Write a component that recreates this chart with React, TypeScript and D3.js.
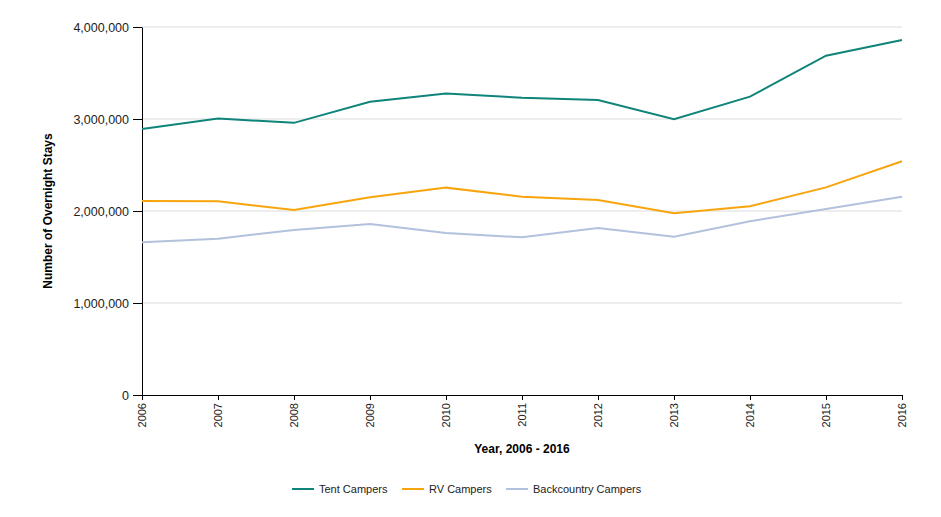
import React, { useRef, useEffect } from 'react';
import * as d3 from 'd3';

const years = [2006, 2007, 2008, 2009, 2010, 2011, 2012, 2013, 2014, 2015, 2016];
const tentCampers = [2891000, 3005000, 2958000, 3188000, 3278000, 3231000, 3206000, 2997000, 3243000, 3688000, 3859000];
const rvCampers = [2109000, 2105000, 2011000, 2149000, 2254000, 2156000, 2120000, 1975000, 2051000, 2257000, 2540000];
const backcountryCampers = [1659000, 1699000, 1793000, 1859000, 1761000, 1714000, 1815000, 1721000, 1888000, 2022000, 2156000];
const yTicks = [0, 1000000, 2000000, 3000000, 4000000];

const series = [
  { name: 'Tent Campers', values: tentCampers, color: '#0f847a' },
  { name: 'RV Campers', values: rvCampers, color: '#f8a50d' },
  { name: 'Backcountry Campers', values: backcountryCampers, color: '#b2c2dc' },
];

const App: React.FC = () => {
  const ref = useRef<SVGSVGElement | null>(null);

  useEffect(() => {
    const width = 941;
    const height = 517;
    const margin = { top: 27, right: 39, bottom: 122, left: 142 };
    const w = width - margin.left - margin.right;
    const h = height - margin.top - margin.bottom;

    const svg = d3.select(ref.current);
    svg.selectAll('*').remove();

    const x = d3.scaleLinear().domain([2006, 2016]).range([0, w]);
    const y = d3.scaleLinear().domain([0, 4000000]).range([h, 0]);

    const g = svg.append('g').attr('transform', `translate(${margin.left},${margin.top})`);

    // grid
    g.append('g')
      .selectAll('line')
      .data(yTicks.filter(t => t > 0))
      .join('line')
      .attr('x1', 0)
      .attr('x2', w)
      .attr('y1', d => y(d))
      .attr('y2', d => y(d))
      .attr('stroke', '#dcdcdc')
      .attr('stroke-width', 1);

    // x axis
    const xAxis = g.append('g')
      .attr('transform', `translate(0,${h})`)
      .call(d3.axisBottom(x).tickValues(years).tickFormat(d3.format('d')).tickSize(5).tickSizeOuter(0));
    xAxis.select('.domain').attr('stroke', '#000');
    xAxis.selectAll('line').attr('stroke', '#000');
    xAxis.selectAll('text')
      .attr('font-family', 'Liberation Sans, Arial, sans-serif')
      .attr('font-size', '11px')
      .attr('fill', '#222')
      .attr('transform', 'rotate(-90)')
      .attr('text-anchor', 'end')
      .attr('x', -8)
      .attr('y', 0)
      .attr('dy', '0.35em');

    // y axis
    const yAxis = g.append('g')
      .call(d3.axisLeft(y).tickValues(yTicks).tickFormat(d3.format(',')).tickSize(9).tickPadding(4).tickSizeOuter(0));
    yAxis.select('.domain').attr('stroke', '#000');
    yAxis.selectAll('line').attr('stroke', '#000');
    yAxis.selectAll('text')
      .attr('font-family', 'Liberation Sans, Arial, sans-serif')
      .attr('font-size', '12.5px')
      .attr('fill', '#222');

    // axis titles
    svg.append('text')
      .attr('transform', `translate(52,${margin.top + h / 2}) rotate(-90)`)
      .attr('text-anchor', 'middle')
      .attr('font-family', 'Liberation Sans, Arial, sans-serif')
      .attr('font-size', '12px')
      .attr('font-weight', 'bold')
      .text('Number of Overnight Stays');

    svg.append('text')
      .attr('x', margin.left + w / 2)
      .attr('y', 453)
      .attr('text-anchor', 'middle')
      .attr('font-family', 'Liberation Sans Narrow, Arial Narrow, Liberation Sans, sans-serif')
      .attr('font-size', '12px')
      .attr('font-weight', 'bold')
      .text('Year, 2006 - 2016');

    // lines
    const line = d3.line<number>()
      .x((_, i) => x(years[i]))
      .y(d => y(d));

    series.forEach(s => {
      g.append('path')
        .datum(s.values)
        .attr('fill', 'none')
        .attr('stroke', s.color)
        .attr('stroke-width', 2)
        .attr('d', line);
    });

    // legend
    const legendX = [292, 402, 506];
    const legend = svg.append('g').attr('transform', 'translate(0,489)');
    series.forEach((s, i) => {
      legend.append('line')
        .attr('x1', legendX[i])
        .attr('x2', legendX[i] + 22)
        .attr('y1', 0)
        .attr('y2', 0)
        .attr('stroke', s.color)
        .attr('stroke-width', 2);
      legend.append('text')
        .attr('x', legendX[i] + 27)
        .attr('y', 0)
        .attr('dy', '0.35em')
        .attr('font-family', 'Liberation Sans, Arial, sans-serif')
        .attr('font-size', '11px')
        .attr('fill', '#222')
        .text(s.name);
    });
  }, []);

  return (
    <svg
      ref={ref}
      width={941}
      height={517}
      style={{ position: 'absolute', left: 0, top: 0, background: '#fff' }}
    />
  );
};

export default App;
